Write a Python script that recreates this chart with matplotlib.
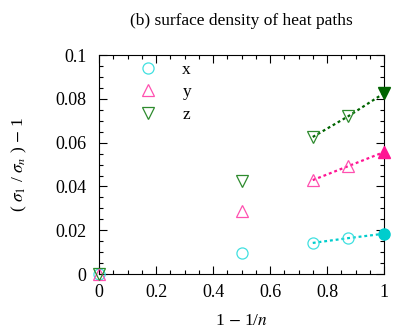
import matplotlib.pyplot as plt
from matplotlib.lines import Line2D
from matplotlib.ticker import MultipleLocator

plt.rcParams['font.family'] = ['Liberation Serif', 'DejaVu Serif']
plt.rcParams['mathtext.fontset'] = 'stix'

# open points
xo = [0, 0.5, 0.75, 0.875]
sx = [0.0, 0.0096, 0.0142, 0.0164]
sy = [0.0, 0.0288, 0.0429, 0.0493]
sz = [0.0, 0.0425, 0.0626, 0.0721]
# extrapolated values at 1-1/n = 1
xe = 1.0
ex, ey, ez = 0.0184, 0.0557, 0.0826
# dotted fit lines through the last points
xf = [0.75, 0.875, 1.0]

cols = {'x': '#00cdcd', 'y': '#ff1493', 'z': '#006400'}
light = {'x': '#40e0e0', 'y': '#ff50b0', 'z': '#2e8b2e'}
mk = {'x': 'o', 'y': '^', 'z': 'v'}

f = plt.figure(figsize=(4.15, 3.34), dpi=100)
ax = f.add_axes([0.2386, 0.1796, 0.6867, 0.6554])

for k, s, e in [('x', sx, ex), ('y', sy, ey), ('z', sz, ez)]:
  ax.plot(xf, [s[2], s[3], e], ls=(0, (1.3, 1.3)), lw=1.6, c=cols[k], zorder=2)
  ax.plot(xo, s, mk[k], ls='none', ms=8, mfc='none', mec=light[k], mew=0.9,
          clip_on=False, zorder=3)
  ax.plot([xe], [e], mk[k], ls='none', ms=8, mfc=cols[k], mec=cols[k],
          clip_on=False, zorder=4)

ax.set_xlim(0, 1)
ax.set_ylim(0, 0.1)
ax.xaxis.set_minor_locator(MultipleLocator(0.05))
ax.yaxis.set_minor_locator(MultipleLocator(0.005))
ax.set_xticks([0, 0.2, 0.4, 0.6, 0.8, 1])
ax.set_xticklabels(['0', '0.2', '0.4', '0.6', '0.8', '1'])
ax.set_yticks([0, 0.02, 0.04, 0.06, 0.08, 0.1])
ax.set_yticklabels(['0', '0.02', '0.04', '0.06', '0.08', '0.1'])
ax.tick_params(which='both', direction='in', top=True, right=True, labelsize=13)
ax.tick_params(axis='y', pad=9)
ax.tick_params(axis='x', pad=7)
ax.tick_params(which='major', length=6, width=0.8)
ax.tick_params(which='minor', length=3, width=0.8)

legend_elements = [Line2D([0], [0], marker=mk[k], ls='none', ms=8, mfc='none',
                          mec=light[k], mew=0.9, label=k) for k in 'xyz']
ax.legend(handles=legend_elements, loc='upper left', bbox_to_anchor=(0.14, 0.968),
          frameon=False, fontsize=12.5, handlelength=1.0, handletextpad=1.5,
          labelspacing=0.35, borderpad=0, borderaxespad=0)

ax.set_title('(b) surface density of heat paths', fontsize=12.5, pad=22)
ax.set_xlabel(r'1 $-$ 1/$n$', fontsize=12.5, labelpad=9)
ax.set_ylabel(r'( $\sigma_1$ / $\sigma_n$ ) $-$ 1', fontsize=12.5, labelpad=19)
plt.savefig('out.png', dpi=100)
